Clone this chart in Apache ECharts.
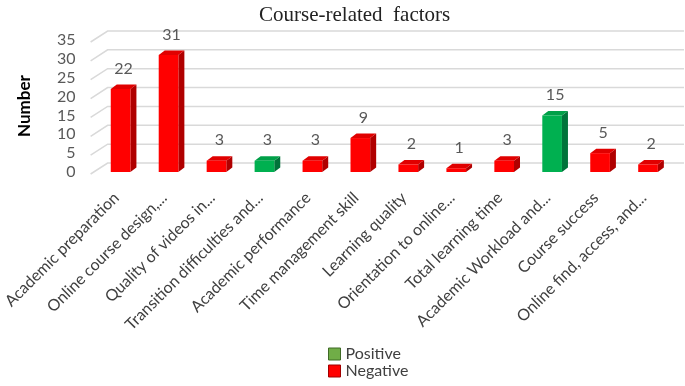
<!DOCTYPE html>
<html>
<head>
<meta charset="utf-8">
<script src="https://cdn.jsdelivr.net/npm/echarts@6/dist/echarts.min.js"></script>
<style>
  html, body { margin: 0; padding: 0; background: #fff; }
  #main { width: 685px; height: 386px; }
</style>
</head>
<body>
<div id="main"></div>
<script>
var categories = ['Academic preparation', 'Online course design,...', 'Quality of videos in...',
    'Transition difficulties and...', 'Academic performance', 'Time management skill',
    'Learning quality', 'Orientation to online...', 'Total learning time',
    'Academic Workload and...', 'Course success', 'Online find, access, and...'];
var values = [22, 31, 3, 3, 3, 9, 2, 1, 3, 15, 5, 2];
// P = Positive, N = Negative
var kinds = ['N', 'N', 'N', 'P', 'N', 'N', 'N', 'N', 'N', 'P', 'N', 'N'];
var yTicks = [0, 5, 10, 15, 20, 25, 30, 35];

var font = 'Lato, "Open Sans", sans-serif';

var colors = {
    P: { front: '#00b050', side: '#00733a', top: '#00a048' },
    N: { front: '#ff0000', side: '#b00000', top: '#e00000' }
};

function pick(kind) {
    var out = [];
    values.forEach(function(v, i) {
        if (kinds[i] == kind) out.push([i, v]);
    });
    return out;
}

// 3d column: front face + side + top
function renderBar(kind) {
    var c = colors[kind];
    return function(params, api) {
        var i = api.value(0), v = api.value(1);
        var base = api.coord([i, 0]);
        var top = api.coord([i, v]);
        var w = api.size([1, 0])[0] * 0.41;
        var dx = 6, dy = -4.5;
        var x0 = base[0] - w / 2, x1 = base[0] + w / 2;
        var yb = base[1], yt = top[1];
        return {
            type: 'group',
            children: [{
                type: 'polygon',
                shape: { points: [[x1, yt], [x1 + dx, yt + dy], [x1 + dx, yb + dy], [x1, yb]] },
                style: { fill: c.side }
            }, {
                type: 'polygon',
                shape: { points: [[x0, yt], [x0 + dx, yt + dy], [x1 + dx, yt + dy], [x1, yt]] },
                style: { fill: c.top }
            }, {
                type: 'rect',
                shape: { x: x0, y: yt, width: w, height: yb - yt },
                style: { fill: c.front }
            }, {
                type: 'text',
                x: base[0] + dx / 2,
                y: yt + dy - 8,
                style: {
                    text: String(v), align: 'center', verticalAlign: 'bottom',
                    fill: '#595959', fontSize: 16, fontFamily: font
                }
            }]
        };
    };
}

// back wall gridlines with the slanted left edge
function renderGrid(params, api) {
    var p = api.coord([0, api.value(1)]);
    var band = api.size([1, 0])[0];
    var left = p[0] - band / 2;
    var right = left + band * categories.length;
    return {
        type: 'polyline',
        shape: { points: [[left - 6, p[1] + 2], [left + 11, p[1] - 9], [right + 12, p[1] - 9]] },
        style: { stroke: '#d9d9d9', lineWidth: 1.5, fill: null }
    };
}

var legendText = { fontFamily: font, fontSize: 16, color: '#404040' };

var chart = echarts.init(document.getElementById('main'));
var option = {
    animation: false,
    title: {
        text: 'Course-related  factors',
        left: 254,
        top: 0,
        textStyle: { fontFamily: '"Liberation Serif", serif', fontSize: 21, fontWeight: 'normal', color: '#222' }
    },
    legend: [{
        left: 328, top: 346, padding: 0,
        icon: 'rect', itemWidth: 12, itemHeight: 12,
        textStyle: legendText,
        data: [{ name: 'Positive', itemStyle: { color: '#70ad47', borderColor: '#3f6a26', borderWidth: 1 } }]
    }, {
        left: 328, top: 363, padding: 0,
        icon: 'rect', itemWidth: 12, itemHeight: 12,
        textStyle: legendText,
        data: [{ name: 'Negative', itemStyle: { color: '#ff0000', borderColor: '#a00000', borderWidth: 1 } }]
    }],
    grid: { left: 96, right: 13, top: 40, bottom: 214 },
    xAxis: {
        type: 'category',
        data: categories,
        axisLine: { show: false },
        axisTick: { show: false },
        axisLabel: {
            interval: 0, rotate: 45, margin: 19,
            padding: [0, 6, 0, 0],
            fontFamily: font, fontSize: 16, color: '#404040'
        }
    },
    yAxis: {
        type: 'value',
        min: 0, max: 35, interval: 5,
        name: 'Number',
        nameLocation: 'middle',
        nameGap: 64,
        nameTextStyle: { fontFamily: font, fontSize: 17, fontWeight: 'bold', color: '#000' },
        axisLine: { show: false },
        axisTick: { show: false },
        splitLine: { show: false },
        axisLabel: { margin: 21, fontFamily: font, fontSize: 16, color: '#595959' }
    },
    series: [{
        type: 'custom',
        name: 'grid',
        silent: true,
        z: 1,
        data: yTicks.map(function(t) { return [0, t]; }),
        renderItem: renderGrid
    }, {
        type: 'custom',
        name: 'Positive',
        z: 2,
        itemStyle: { color: '#70ad47' },
        data: pick('P'),
        renderItem: renderBar('P')
    }, {
        type: 'custom',
        name: 'Negative',
        z: 2,
        itemStyle: { color: '#ff0000' },
        data: pick('N'),
        renderItem: renderBar('N')
    }]
};
chart.setOption(option);
</script>
</body>
</html>
